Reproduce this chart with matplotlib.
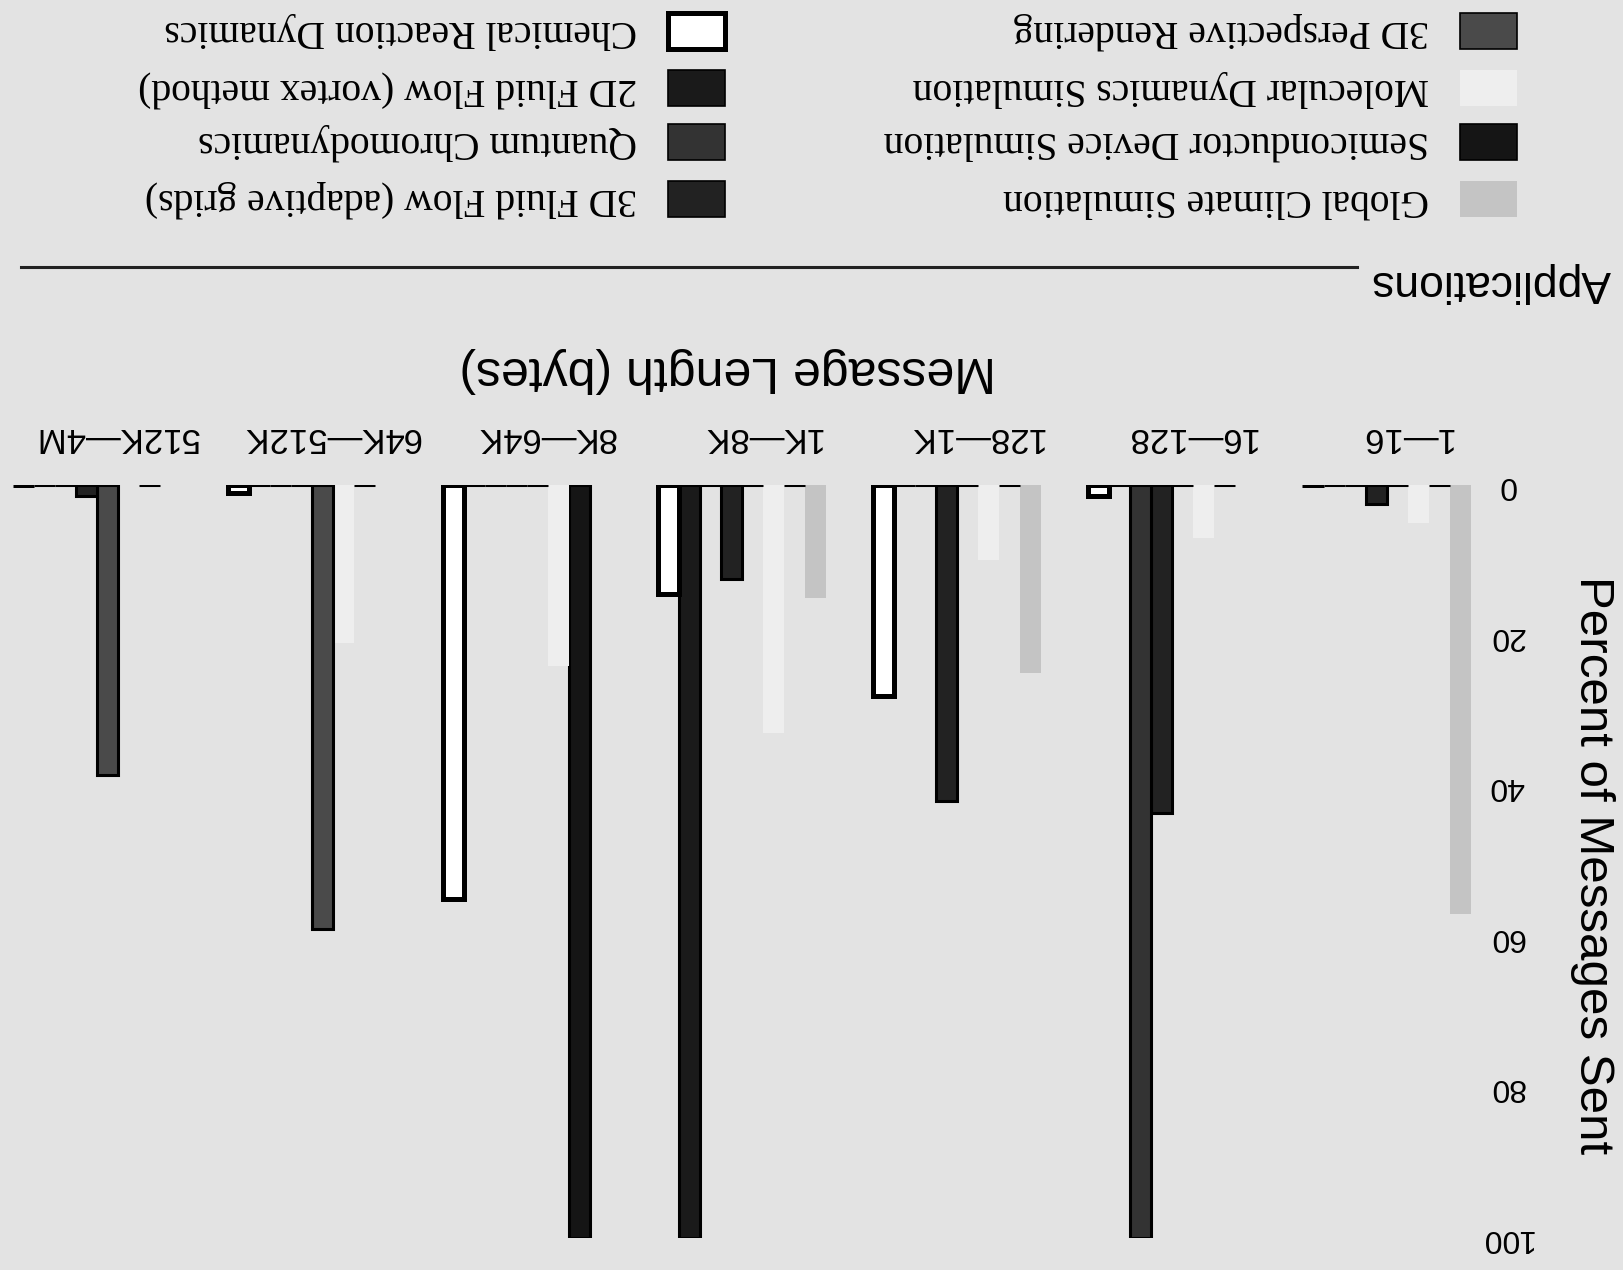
import numpy as np
import matplotlib.pyplot as plt
from matplotlib.patches import Rectangle
from matplotlib.lines import Line2D

plt.rcParams['font.family'] = ['Liberation Sans', 'DejaVu Sans']

# message length bins and applications (figure is printed upside down)
categories = ['1—16', '16—128', '128—1K', '1K—8K', '8K—64K', '64K—512K', '512K—4M']
apps = ['Global Climate Simulation', 'Semiconductor Device Simulation',
        'Molecular Dynamics Simulation', '3D Perspective Rendering',
        '3D Fluid Flow (adaptive grids)', 'Quantum Chromodynamics',
        '2D Fluid Flow (vortex method)', 'Chemical Reaction Dynamics']

# percent of messages sent per bin
global_climate = [57, 0, 25, 15, 0, 0, 0]
semiconductor = [0, 0, 0, 0, 100, 0, 0]
molecular = [5, 7, 10, 33, 24, 21, 0]
perspective = [0, 0, 0, 0, 0, 59, 38.5]
fluid_3d = [2.5, 43.5, 42, 12.5, 0, 0, 1.5]
qcd = [0, 100, 0, 0, 0, 0, 0]
fluid_2d = [0, 0, 0, 100, 0, 0, 0]
chemical = [0, 1.5, 28, 14.5, 55, 1, 0]
yticks = [0, 20, 40, 60, 80, 100]

series = [global_climate, semiconductor, molecular, perspective,
          fluid_3d, qcd, fluid_2d, chemical]
fills = ['#c4c4c4', '#151515', '#eeeeee', '#4a4a4a', '#222222', '#333333', '#1a1a1a', '#ffffff']
edges = ['none', 'black', 'none', 'black', 'black', 'black', 'black', 'black']
lws = [0, 2.2, 0, 2.2, 2.2, 2.2, 2.2, 3.6]

bg = '#e3e3e3'
W, H = 1624, 1270
fig = plt.figure(figsize=(W / 100, H / 100), dpi=100, facecolor=bg)
ax = fig.add_axes([10 / W, 1 - 1238 / H, 1470 / W, (1238 - 485) / H])
ax.set_facecolor('none')

x = np.arange(len(categories))
bw = 0.0978
for j, vals in enumerate(series):
    ax.bar(x + (j - 3.5) * bw, vals, width=bw, color=fills[j],
           edgecolor=edges[j], linewidth=lws[j], label=apps[j])

# everything upside down: reversed axes, text turned 180 degrees
ax.set_xlim(6.407, -0.435)
ax.set_ylim(100, 0)
for s in ax.spines.values():
    s.set_visible(False)

ax.xaxis.tick_top()
ax.set_xticks(x - 0.09)
ax.set_xticklabels(categories, rotation=180, fontsize=25)
ax.tick_params(axis='x', length=0, pad=22)

ax.yaxis.tick_right()
ax.set_yticks(yticks)
ax.set_yticklabels([str(v) for v in yticks], rotation=180, fontsize=23, ha='center', va='center')
ax.tick_params(axis='y', length=0, pad=19)

fig.text(728 / W, 1 - 370 / H, 'Message Length (bytes)', rotation=180,
         ha='center', va='center', fontsize=36)
fig.text(1593 / W, 1 - 865 / H, 'Percent of Messages Sent', rotation=270,
         ha='center', va='center', fontsize=35.5)

# legend block
fig.text(1491 / W, 1 - 282 / H, 'Applications', rotation=180,
         ha='center', va='center', fontsize=32)
fig.add_artist(Line2D([21 / W, 1357 / W], [1 - 267 / H] * 2, color='#222222', lw=2.2))

rows_y = [31, 88, 142, 199]
legend_cols = [[7, 6, 5, 4], [3, 2, 1, 0]]
square_x = [668, 1460]
text_right = [637, 1429]
for c, col in enumerate(legend_cols):
    for r, j in enumerate(col):
        yc = rows_y[r]
        lw = 3.6 if j == 7 else (0 if edges[j] == 'none' else 1.2)
        fig.add_artist(Rectangle((square_x[c] / W, 1 - (yc + 18) / H), 57 / W, 36 / H,
                                 transform=fig.transFigure, facecolor=fills[j],
                                 edgecolor=edges[j], linewidth=lw))
        fig.text(text_right[c] / W, 1 - yc / H, apps[j], rotation=180,
                 ha='right', va='center', fontsize=28.5, family='Liberation Serif')

fig.savefig('out.png', dpi=100, facecolor=bg)
